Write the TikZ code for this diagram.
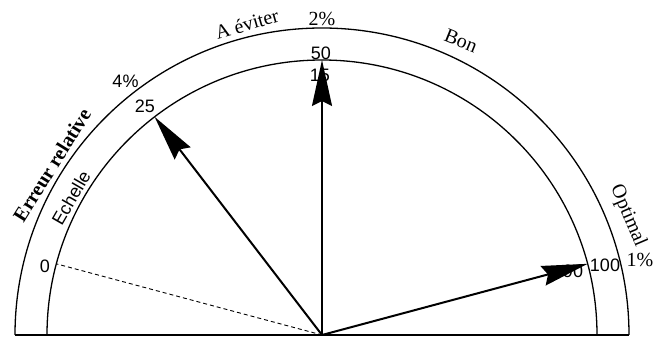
\documentclass[tikz,border=0pt]{standalone}
\usepackage{fontspec}
\setmainfont{Liberation Serif}
\newfontfamily\arialf{Liberation Sans}
\usetikzlibrary{arrows.meta}
\begin{document}
\begin{tikzpicture}[x=1pt,y=1pt,
  arcline/.style={line width=1.3pt},
  vec/.style={line width=2pt,-{Stealth[length=46pt,width=20pt,inset=5pt]}},
  sf/.style={font=\arialf\fontsize{18}{18}\selectfont, inner sep=0pt},
  rm/.style={font=\fontsize{20}{20}\selectfont, inner sep=0pt},
  rmb/.style={font=\bfseries\fontsize{20}{20}\selectfont, inner sep=0pt}]
\useasboundingbox (0,0) rectangle (654,338);
\coordinate (O) at (322,3);
\path (O) ++(180:307) coordinate (L);
\path (O) ++(0:307) coordinate (R);
\path (O) ++(0:275) coordinate (Ri);
\path (O) ++(165:275) coordinate (p0);
\path (O) ++(127.5:275) coordinate (p25);
\path (O) ++(90:275) coordinate (p50);
\path (O) ++(15:275) coordinate (p100);
% arcs
\draw[arcline] (R) arc (0:180:307);
\draw[arcline] (Ri) arc (0:180:275);
\draw[line width=2pt] (L) -- (R);
% vectors
\draw[line width=0.9pt, dash pattern=on 4pt off 3pt] (O) -- (p0);
\draw[vec] (O) -- (p25);
\draw[vec] (O) -- (p50);
\draw[vec] (O) -- (p100);
% labels
\node[rmb, rotate=58] (er) at (52,173) {Erreur relative};
\node[sf, rotate=60] (ech) at (71,140) {Echelle};
\node[rm, rotate=16] (av) at (247,314) {A éviter};
\node[rm] (p2) at (322,319) {2\%};
\node[rm, rotate=-22] (bon) at (461,297) {Bon};
\node[rm, rotate=-67] (opt) at (628,122) {Optimal};
\node[rm] (p1) at (640,78) {1\%};
\node[sf] (p4) at (125.5,256.5) {4\%};
\node[sf] (l50) at (321,285) {50};
\node[sf] (l15) at (320,263) {15};
\node[sf] (l25) at (145,231.5) {25};
\node[sf] (l0) at (45,71.5) {0};
\node[sf] (l90) at (573,66.5) {90};
\node[sf] (l100) at (605,73) {100};
\end{tikzpicture}
\end{document}
